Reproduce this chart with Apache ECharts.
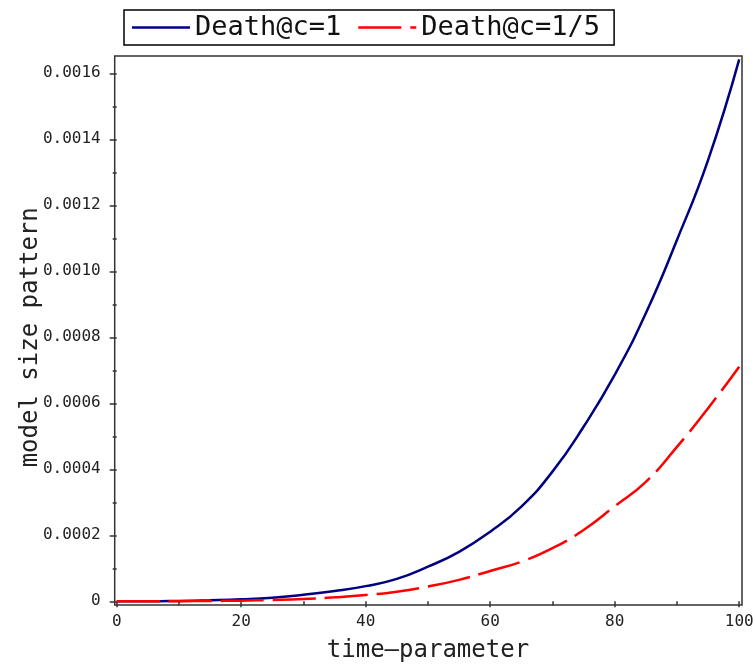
<!DOCTYPE html>
<html>
<head>
<meta charset="utf-8">
<script src="https://cdn.jsdelivr.net/npm/echarts@6/dist/echarts.min.js"></script>
<style>
  html, body { margin: 0; padding: 0; background: #ffffff; }
  #chart { width: 753px; height: 666px; }
</style>
</head>
<body>
<div id="chart"></div>
<script>
// time-parameter samples
const timeParameter = [0, 5, 10, 15, 20, 25, 30, 35, 40, 45, 50, 55, 60, 65, 70, 75, 80, 85, 90, 95, 100];

// model size pattern, death rate c = 1
const deathC1 = [0, 0, 0.000001, 0.000003, 0.000006, 0.000011, 0.000020, 0.000031, 0.000046, 0.000068,
  0.000105, 0.000150, 0.000211, 0.000287, 0.000393, 0.000529, 0.000686, 0.000873, 0.001095, 0.001337, 0.001642];

// model size pattern, death rate c = 1/5
const deathC15 = [0, 0, 0.0000005, 0.000001, 0.000002, 0.000004, 0.000007, 0.000012, 0.000019, 0.000029,
  0.000045, 0.000065, 0.000092, 0.000120, 0.000161, 0.000216, 0.000288, 0.000362, 0.000468, 0.000585, 0.000711];

const seriesNames = ['Death@c=1', 'Death@c=1/5'];
const xAxisTitle = 'time\u2013parameter';
const yAxisTitle = 'model size pattern';

const FONT = "'DejaVu Sans Mono', 'Liberation Mono', monospace";
const INK = '#222222';
const FRAME = '#333333';

// legend swatches: solid stroke and long–short dash
const ICON_SOLID = 'path://M0,0H58V2.5H0Z';
const ICON_DASH = 'path://M0,0H43V2.5H0ZM52,0H58V2.5H52Z';

const pairs = (ys) => timeParameter.map((x, i) => [x, ys[i]]);

const chart = echarts.init(document.getElementById('chart'), null, { renderer: 'canvas' });

chart.setOption({
  backgroundColor: '#ffffff',
  animation: false,
  legend: {
    left: 124,
    top: 10,
    padding: [4, 14, 4, 8],
    itemWidth: 58,
    itemHeight: 14,
    itemGap: 17,
    symbolKeepAspect: true,
    borderColor: '#000000',
    borderWidth: 1.5,
    textStyle: { fontFamily: FONT, fontSize: 27, color: '#111111' },
    data: [
      { name: seriesNames[0], icon: ICON_SOLID },
      { name: seriesNames[1], icon: ICON_DASH }
    ]
  },
  grid: [
    // plotting region for the curves
    { left: 116.7, right: 13.8, top: 73.3, bottom: 64.7, show: false,
      outerBoundsMode: 'none', containLabel: false },
    // surrounding frame
    { left: 114.7, right: 11, top: 56, bottom: 61, show: true,
      outerBoundsMode: 'none', containLabel: false,
      borderColor: FRAME, borderWidth: 1.5, backgroundColor: 'transparent' }
  ],
  xAxis: [
    {
      type: 'value', gridIndex: 0, min: 0, max: 100, interval: 20,
      offset: 4,
      name: xAxisTitle, nameLocation: 'middle', nameGap: 33,
      nameMoveOverlap: false,
      nameTextStyle: { fontFamily: FONT, fontSize: 24, color: INK },
      axisLine: { show: false },
      axisTick: { show: true, length: 6, lineStyle: { color: FRAME, width: 1.5 } },
      minorTick: { show: true, splitNumber: 2, length: 4, lineStyle: { color: FRAME, width: 1.5 } },
      axisLabel: { margin: 9, fontFamily: FONT, fontSize: 16, color: INK },
      splitLine: { show: false }
    },
    { type: 'value', gridIndex: 1, show: false, min: 0, max: 1 }
  ],
  yAxis: [
    {
      type: 'value', gridIndex: 0, min: 0, max: 0.0016, interval: 0.0002,
      offset: 2,
      name: yAxisTitle, nameLocation: 'middle', nameGap: 72, nameRotate: 90,
      nameMoveOverlap: false,
      nameTextStyle: { fontFamily: FONT, fontSize: 24, color: INK },
      axisLine: { show: false },
      axisTick: { show: true, length: 7, lineStyle: { color: FRAME, width: 1.5 } },
      minorTick: { show: true, splitNumber: 2, length: 4, lineStyle: { color: FRAME, width: 1.5 } },
      axisLabel: {
        margin: 14, fontFamily: FONT, fontSize: 16, color: INK,
        formatter: (v) => (v === 0 ? '0' : v.toFixed(4))
      },
      splitLine: { show: false }
    },
    { type: 'value', gridIndex: 1, show: false, min: 0, max: 1 }
  ],
  series: [
    {
      name: seriesNames[0], type: 'line', xAxisIndex: 0, yAxisIndex: 0,
      data: pairs(deathC1), smooth: 0.5, clip: false,
      symbol: 'none', showSymbol: false,
      lineStyle: { color: '#000080', width: 2.5 },
      itemStyle: { color: '#000080' }
    },
    {
      name: seriesNames[1], type: 'line', xAxisIndex: 0, yAxisIndex: 0,
      data: pairs(deathC15), smooth: 0.5, clip: false,
      symbol: 'none', showSymbol: false,
      lineStyle: { color: '#ff0000', width: 2.5, type: [43, 9] },
      itemStyle: { color: '#ff0000' }
    }
  ]
});
</script>
</body>
</html>
